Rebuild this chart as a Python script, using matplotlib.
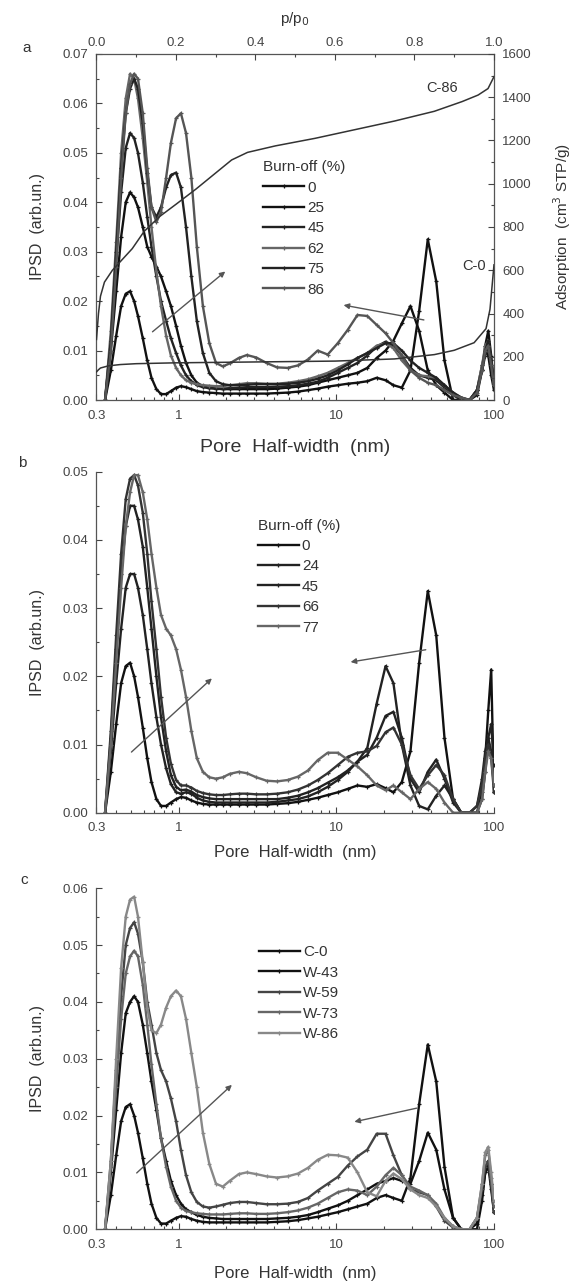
"""
Incremental pore size distributions of the activated carbons, three panels
"""

import matplotlib
matplotlib.use("Agg")
import matplotlib.pyplot as plt
from matplotlib.ticker import FixedLocator, MultipleLocator, FormatStrFormatter, NullFormatter

plt.rcParams["font.family"] = ["Liberation Sans", "DejaVu Sans"]
plt.rcParams["text.color"] = "#333333"
plt.rcParams["axes.labelcolor"] = "#333333"
plt.rcParams["xtick.color"] = "#444444"
plt.rcParams["ytick.color"] = "#444444"

# pore half-width grid (nm), shared by all IPSD curves
width_nm = [0.34, 0.37, 0.40, 0.43, 0.46, 0.49, 0.52, 0.55, 0.59, 0.63,
            0.67, 0.72, 0.77, 0.83, 0.89, 0.96, 1.03, 1.11, 1.2, 1.3,
            1.42, 1.56, 1.72, 1.9, 2.1, 2.4, 2.7, 3.1, 3.6, 4.2,
            4.9, 5.7, 6.6, 7.6, 8.8, 10.2, 11.8, 13.6, 15.7, 18,
            20.5, 23, 26, 29.5, 33.5, 38, 43, 48.5, 55, 62,
            70, 78, 84, 88, 92, 96, 100]

# ---- panel a: burn-off series
labels_a = ["0", "25", "45", "62", "75", "86"]
ipsd_a0 = [0.000, 0.006, 0.013, 0.019, 0.0215, 0.022, 0.020, 0.017, 0.0125, 0.008,
           0.0045, 0.0022, 0.0012, 0.0012, 0.0018, 0.0025, 0.0028, 0.0026, 0.0022, 0.0018,
           0.0016, 0.0015, 0.0014, 0.0013, 0.0013, 0.0013, 0.0013, 0.0013, 0.0013, 0.0014,
           0.0015, 0.0017, 0.002, 0.0023, 0.0027, 0.003, 0.0033, 0.0035, 0.0038, 0.0045,
           0.004, 0.003, 0.0025, 0.006, 0.018, 0.0325, 0.024, 0.008, 0.000, 0.000,
           0.000, 0.001, 0.006, 0.011, 0.014, 0.009, 0.003]
ipsd_a25 = [0.000, 0.010, 0.022, 0.033, 0.040, 0.042, 0.041, 0.039, 0.035, 0.031,
            0.029, 0.027, 0.025, 0.022, 0.019, 0.015, 0.011, 0.0075, 0.005, 0.0035,
            0.0028, 0.0025, 0.0023, 0.0022, 0.0022, 0.0022, 0.0022, 0.0022, 0.0022, 0.0023,
            0.0025, 0.0027, 0.003, 0.0035, 0.004, 0.0045, 0.005, 0.0055, 0.0065, 0.0085,
            0.010, 0.012, 0.0155, 0.019, 0.014, 0.006, 0.003, 0.0015, 0.000, 0.000,
            0.000, 0.002, 0.007, 0.010, 0.009, 0.005, 0.002]
ipsd_a45 = [0.000, 0.012, 0.028, 0.042, 0.051, 0.054, 0.053, 0.050, 0.044, 0.037,
            0.031, 0.025, 0.020, 0.016, 0.0125, 0.0095, 0.007, 0.005, 0.0038, 0.003,
            0.0026, 0.0024, 0.0023, 0.0023, 0.0024, 0.0025, 0.0026, 0.0026, 0.0026, 0.0027,
            0.0028, 0.003, 0.0033, 0.0037, 0.0045, 0.0055, 0.0065, 0.0075, 0.009, 0.0108,
            0.0118, 0.011, 0.009, 0.0065, 0.005, 0.0045, 0.004, 0.0025, 0.001, 0.000,
            0.000, 0.002, 0.006, 0.009, 0.011, 0.007, 0.003]
ipsd_a62 = [0.000, 0.014, 0.032, 0.050, 0.061, 0.066, 0.065, 0.061, 0.053, 0.044,
            0.035, 0.026, 0.019, 0.013, 0.009, 0.0065, 0.005, 0.004, 0.0035, 0.0032,
            0.003, 0.0029, 0.0028, 0.0028, 0.003, 0.0032, 0.0034, 0.0034, 0.0033, 0.0033,
            0.0035, 0.0038, 0.0042, 0.0048, 0.0055, 0.0065, 0.0075, 0.0085, 0.0095, 0.011,
            0.0115, 0.0105, 0.008, 0.006, 0.005, 0.0048, 0.0045, 0.003, 0.0015, 0.0005,
            0.000, 0.002, 0.007, 0.011, 0.012, 0.008, 0.003]
ipsd_a75 = [0.000, 0.012, 0.030, 0.047, 0.058, 0.063, 0.065, 0.063, 0.056, 0.046,
            0.039, 0.037, 0.039, 0.043, 0.0455, 0.046, 0.043, 0.035, 0.025, 0.016,
            0.0095, 0.0055, 0.0038, 0.0032, 0.003, 0.003, 0.0031, 0.0032, 0.0032, 0.0032,
            0.0033, 0.0035, 0.0038, 0.0043, 0.005, 0.006, 0.0072, 0.0085, 0.0095, 0.0105,
            0.0115, 0.0115, 0.010, 0.008, 0.0065, 0.0055, 0.0045, 0.003, 0.0015, 0.0005,
            0.000, 0.002, 0.006, 0.010, 0.012, 0.008, 0.004]
ipsd_a86 = [0.000, 0.010, 0.027, 0.045, 0.058, 0.064, 0.066, 0.065, 0.058, 0.047,
            0.039, 0.036, 0.038, 0.045, 0.052, 0.057, 0.058, 0.054, 0.045, 0.031,
            0.019, 0.0115, 0.0075, 0.0068, 0.0074, 0.0085, 0.0091, 0.0086, 0.0075, 0.0066,
            0.0065, 0.007, 0.0082, 0.0100, 0.0092, 0.0115, 0.0142, 0.0172, 0.0170, 0.0152,
            0.0135, 0.0115, 0.009, 0.006, 0.0045, 0.0035, 0.003, 0.002, 0.001, 0.0005,
            0.000, 0.0015, 0.006, 0.010, 0.011, 0.007, 0.003]
colors_a = ["#111111", "#111111", "#222222", "#666666", "#222222", "#555555"]

# nitrogen isotherms drawn against p/p0 (top) and adsorption (right)
p_c86 = [0.000, 0.005, 0.01, 0.02, 0.04, 0.06, 0.09, 0.12, 0.16, 0.20, 0.25, 0.30,
         0.34, 0.38, 0.45, 0.55, 0.65, 0.75, 0.85, 0.92, 0.96, 0.985, 1.0]
ads_c86 = [280, 400, 480, 545, 600, 640, 700, 780, 850, 905, 975, 1050,
           1110, 1145, 1175, 1210, 1250, 1290, 1335, 1380, 1410, 1440, 1495]
p_c0 = [0.0, 0.005, 0.01, 0.03, 0.06, 0.1, 0.2, 0.4, 0.6, 0.75, 0.85, 0.9,
        0.95, 0.98, 0.99, 1.0]
ads_c0 = [130, 140, 148, 158, 164, 168, 172, 176, 180, 190, 210, 230,
          265, 330, 420, 625]

# ---- panel b: burn-off series
labels_b = ["0", "24", "45", "66", "77"]
ipsd_b0 = [0.000, 0.006, 0.013, 0.019, 0.0215, 0.022, 0.020, 0.017, 0.0125, 0.008,
           0.0045, 0.002, 0.001, 0.001, 0.0015, 0.002, 0.0023, 0.0022, 0.0018, 0.0015,
           0.0013, 0.0012, 0.0012, 0.0012, 0.0012, 0.0012, 0.0012, 0.0012, 0.0012, 0.0013,
           0.0014, 0.0016, 0.0019, 0.0022, 0.0026, 0.003, 0.0035, 0.004, 0.0038, 0.0042,
           0.0036, 0.003, 0.0045, 0.009, 0.022, 0.0325, 0.026, 0.011, 0.002, 0.000,
           0.000, 0.000, 0.003, 0.008, 0.015, 0.021, 0.003]
ipsd_b24 = [0.000, 0.009, 0.019, 0.027, 0.033, 0.035, 0.035, 0.033, 0.029, 0.024,
            0.019, 0.014, 0.010, 0.0065, 0.0042, 0.003, 0.0028, 0.003, 0.0028, 0.0022,
            0.0018, 0.0016, 0.0015, 0.0015, 0.0015, 0.0015, 0.0015, 0.0015, 0.0015, 0.0016,
            0.0018, 0.002, 0.0024, 0.003, 0.0038, 0.0048, 0.006, 0.0075, 0.0095, 0.016,
            0.0215, 0.019, 0.010, 0.004, 0.001, 0.0005, 0.0025, 0.004, 0.002, 0.000,
            0.000, 0.000, 0.002, 0.006, 0.011, 0.013, 0.007]
ipsd_b45 = [0.000, 0.011, 0.024, 0.035, 0.042, 0.045, 0.045, 0.043, 0.039, 0.033,
            0.027, 0.020, 0.014, 0.009, 0.0055, 0.0038, 0.0033, 0.0034, 0.0031, 0.0026,
            0.0023, 0.0021, 0.002, 0.002, 0.002, 0.002, 0.002, 0.002, 0.002, 0.002,
            0.0022, 0.0025, 0.003, 0.0036, 0.0044, 0.0052, 0.0062, 0.0075, 0.0085, 0.0110,
            0.0142, 0.0148, 0.011, 0.005, 0.003, 0.006, 0.0078, 0.005, 0.0015, 0.000,
            0.000, 0.001, 0.005, 0.009, 0.011, 0.009, 0.004]
ipsd_b66 = [0.000, 0.012, 0.026, 0.038, 0.046, 0.049, 0.0495, 0.048, 0.044, 0.038,
            0.031, 0.024, 0.017, 0.011, 0.0072, 0.0048, 0.004, 0.004, 0.0037, 0.0032,
            0.0029, 0.0027, 0.0026, 0.0026, 0.0027, 0.0028, 0.0028, 0.0027, 0.0027, 0.0028,
            0.003, 0.0034, 0.004, 0.0048, 0.0058, 0.007, 0.0082, 0.0088, 0.0090, 0.0098,
            0.0118, 0.0125, 0.010, 0.0055, 0.0035, 0.0055, 0.007, 0.0055, 0.002, 0.000,
            0.000, 0.001, 0.004, 0.008, 0.010, 0.008, 0.003]
ipsd_b77 = [0.000, 0.010, 0.022, 0.033, 0.042, 0.047, 0.0495, 0.0495, 0.047, 0.043,
            0.038, 0.033, 0.029, 0.027, 0.026, 0.024, 0.021, 0.017, 0.012, 0.008,
            0.006, 0.0052, 0.005, 0.0052, 0.0057, 0.006, 0.0058, 0.0052, 0.0047, 0.0046,
            0.0048, 0.0053, 0.0062, 0.0077, 0.0088, 0.0088, 0.0078, 0.0068, 0.0055, 0.004,
            0.0033, 0.004, 0.003, 0.002, 0.0035, 0.0045, 0.0035, 0.0015, 0.000, 0.000,
            0.000, 0.000, 0.002, 0.006, 0.009, 0.008, 0.004]
colors_b = ["#111111", "#222222", "#222222", "#333333", "#666666"]

# ---- panel c: reference carbon and W series
labels_c = ["C-0", "W-43", "W-59", "W-73", "W-86"]
ipsd_c0 = [0.000, 0.006, 0.013, 0.019, 0.0215, 0.022, 0.020, 0.017, 0.0125, 0.008,
           0.0045, 0.002, 0.001, 0.001, 0.0015, 0.002, 0.0023, 0.0022, 0.0018, 0.0015,
           0.0013, 0.0012, 0.0012, 0.0012, 0.0012, 0.0012, 0.0012, 0.0012, 0.0012, 0.0013,
           0.0014, 0.0016, 0.0019, 0.0022, 0.0026, 0.003, 0.0035, 0.004, 0.0045, 0.0055,
           0.006, 0.0055, 0.005, 0.009, 0.022, 0.0325, 0.026, 0.011, 0.002, 0.000,
           0.000, 0.000, 0.005, 0.010, 0.012, 0.008, 0.003]
ipsd_w43 = [0.000, 0.010, 0.021, 0.031, 0.038, 0.040, 0.041, 0.040, 0.036, 0.031,
            0.026, 0.021, 0.016, 0.012, 0.0085, 0.006, 0.0045, 0.0035, 0.003, 0.0025,
            0.0022, 0.002, 0.0019, 0.0018, 0.0018, 0.0018, 0.0018, 0.0018, 0.0018, 0.0019,
            0.002, 0.0022, 0.0025, 0.003, 0.0036, 0.0042, 0.005, 0.006, 0.007, 0.008,
            0.0085, 0.009, 0.0085, 0.008, 0.012, 0.017, 0.014, 0.007, 0.002, 0.000,
            0.000, 0.001, 0.006, 0.010, 0.011, 0.007, 0.003]
ipsd_w59 = [0.000, 0.012, 0.028, 0.041, 0.050, 0.053, 0.054, 0.052, 0.047, 0.040,
            0.036, 0.031, 0.028, 0.026, 0.023, 0.019, 0.014, 0.0095, 0.0065, 0.0048,
            0.0040, 0.0038, 0.004, 0.0043, 0.0046, 0.0048, 0.0048, 0.0046, 0.0044, 0.0044,
            0.0045, 0.0048, 0.0055, 0.0068, 0.008, 0.0092, 0.0112, 0.0128, 0.0140, 0.0168,
            0.0168, 0.013, 0.0095, 0.007, 0.0065, 0.006, 0.004, 0.0015, 0.0003, 0.000,
            0.000, 0.002, 0.007, 0.011, 0.012, 0.008, 0.003]
ipsd_w73 = [0.000, 0.011, 0.025, 0.037, 0.045, 0.048, 0.049, 0.048, 0.043, 0.036,
            0.029, 0.022, 0.016, 0.011, 0.0075, 0.005, 0.0038, 0.0032, 0.003, 0.0028,
            0.0027, 0.0026, 0.0026, 0.0026, 0.0027, 0.0028, 0.0028, 0.0027, 0.0027, 0.0028,
            0.003, 0.0033, 0.0038, 0.0045, 0.0055, 0.0065, 0.007, 0.0068, 0.0060, 0.0075,
            0.0095, 0.0108, 0.0095, 0.0075, 0.0068, 0.006, 0.0045, 0.002, 0.0005, 0.000,
            0.000, 0.002, 0.008, 0.013, 0.014, 0.009, 0.004]
ipsd_w86 = [0.000, 0.012, 0.030, 0.046, 0.055, 0.058, 0.0585, 0.055, 0.047, 0.039,
            0.035, 0.0345, 0.036, 0.039, 0.041, 0.042, 0.041, 0.037, 0.031, 0.025,
            0.017, 0.0115, 0.008, 0.0075, 0.0085, 0.0097, 0.010, 0.0097, 0.0093, 0.0091,
            0.0093, 0.0098, 0.0108, 0.0122, 0.0131, 0.013, 0.0126, 0.010, 0.0065, 0.0058,
            0.0085, 0.0098, 0.0088, 0.007, 0.006, 0.0055, 0.004, 0.002, 0.0005, 0.000,
            0.000, 0.002, 0.008, 0.0135, 0.0145, 0.010, 0.005]
colors_c = ["#111111", "#111111", "#444444", "#666666", "#888888"]


def style_ipsd_axis(ax, ymax, label_size, xlabel_y):
    """
    Log pore-width axis with Origin-like inward ticks
    """
    ax.set_xscale("log")
    ax.set_xlim(0.3, 100)
    ax.set_ylim(0, ymax)
    ax.xaxis.set_major_locator(FixedLocator([0.3, 1, 10, 100]))
    ax.set_xticklabels(["0.3", "1", "10", "100"])
    ax.xaxis.set_minor_locator(FixedLocator(
        [0.4, 0.5, 0.6, 0.7, 0.8, 0.9] + [k for k in range(2, 10)] + [k * 10 for k in range(2, 10)]))
    ax.xaxis.set_minor_formatter(NullFormatter())
    ax.yaxis.set_major_locator(MultipleLocator(0.01))
    ax.yaxis.set_minor_locator(MultipleLocator(0.005))
    ax.yaxis.set_major_formatter(FormatStrFormatter("%.2f"))
    ax.tick_params(which="both", direction="in", labelsize=9.5, width=0.8)
    ax.tick_params(which="major", length=4)
    ax.tick_params(which="minor", length=2)
    ax.tick_params(axis="x", pad=7)
    ax.tick_params(axis="y", pad=6)
    for side in ("left", "bottom", "top", "right"):
        ax.spines[side].set_color("#555555")
        ax.spines[side].set_linewidth(0.9)
    ax.set_xlabel(r"Pore  Half-width  (nm)", fontsize=label_size)
    ax.xaxis.set_label_coords(0.5, xlabel_y)
    ax.set_ylabel(r"IPSD  (arb.un.)", fontsize=11.5)
    ax.yaxis.set_label_coords(-0.13, 0.5)


def plot_series(ax, series, labels, colors):
    handles = []
    for ys, lab, col in zip(series, labels, colors):
        line, = ax.plot(width_nm, ys, "-", color=col, lw=1.7, marker="+",
                        ms=3.5, mew=0.9, label=lab)
        handles.append(line)
    return handles


def add_arrow(ax, start, end):
    ax.annotate("", xy=end, xytext=start,
                arrowprops=dict(arrowstyle="-|>", color="#555555", lw=1.0,
                                mutation_scale=8, shrinkA=0, shrinkB=0))


fig = plt.figure(figsize=(5.73, 12.85), dpi=100)

# panel a
ax_a = fig.add_axes([0.1684, 0.6887, 0.6937, 0.2693])
plot_series(ax_a, [ipsd_a0, ipsd_a25, ipsd_a45, ipsd_a62, ipsd_a75, ipsd_a86],
            labels_a, colors_a)
style_ipsd_axis(ax_a, 0.07, 14, -0.114)
add_arrow(ax_a, (0.68, 0.0138), (1.97, 0.026))
add_arrow(ax_a, (35.9, 0.0162), (11.1, 0.0192))
ax_a.legend(title="Burn-off (%)", loc="upper left", bbox_to_anchor=(0.40, 0.715),
            frameon=False, fontsize=11, title_fontsize=11, handlelength=2.7,
            handletextpad=0.2, labelspacing=0.42, borderpad=0, alignment="left")

ax_iso = fig.add_axes([0.1684, 0.6887, 0.6937, 0.2693], frameon=False)
ax_iso.plot(p_c86, ads_c86, "-", color="#333333", lw=1.1)
ax_iso.plot(p_c0, ads_c0, "-", color="#333333", lw=1.1)
ax_iso.set_xlim(0, 1.0)
ax_iso.set_ylim(0, 1600)
ax_iso.xaxis.tick_top()
ax_iso.xaxis.set_label_position("top")
ax_iso.yaxis.tick_right()
ax_iso.yaxis.set_label_position("right")
ax_iso.xaxis.set_major_locator(MultipleLocator(0.2))
ax_iso.xaxis.set_minor_locator(MultipleLocator(0.1))
ax_iso.xaxis.set_major_formatter(FormatStrFormatter("%.1f"))
ax_iso.yaxis.set_major_locator(MultipleLocator(200))
ax_iso.yaxis.set_minor_locator(MultipleLocator(100))
ax_iso.tick_params(which="both", direction="in", labelsize=9.5, width=0.8)
ax_iso.tick_params(which="major", length=4)
ax_iso.tick_params(which="minor", length=2)
ax_iso.tick_params(axis="y", pad=6)
ax_iso.set_xlabel(r"p/p$_0$", fontsize=11, labelpad=10)
ax_iso.set_ylabel(r"Adsorption  (cm$^3$ STP/g)", fontsize=11)
ax_iso.yaxis.set_label_coords(1.145, 0.5)
ax_iso.text(0.83, 1443, "C-86", fontsize=10.5, ha="left", va="center")
ax_iso.text(0.92, 620, "C-0", fontsize=10.5, ha="left", va="center")

# panel b
ax_b = fig.add_axes([0.1684, 0.3675, 0.6937, 0.2654])
plot_series(ax_b, [ipsd_b0, ipsd_b24, ipsd_b45, ipsd_b66, ipsd_b77], labels_b, colors_b)
style_ipsd_axis(ax_b, 0.05, 12, -0.095)
ax_b.spines["top"].set_visible(False)
ax_b.spines["right"].set_visible(False)
ax_b.tick_params(which="both", top=False, right=False)
add_arrow(ax_b, (0.50, 0.0089), (1.62, 0.0197))
add_arrow(ax_b, (36.9, 0.0239), (12.3, 0.0221))
ax_b.legend(title="Burn-off (%)", loc="upper left", bbox_to_anchor=(0.386, 0.885),
            frameon=False, fontsize=11, title_fontsize=11, handlelength=2.7,
            handletextpad=0.2, labelspacing=0.42, borderpad=0, alignment="left")

# panel c
ax_c = fig.add_axes([0.1684, 0.0434, 0.6937, 0.2654])
plot_series(ax_c, [ipsd_c0, ipsd_w43, ipsd_w59, ipsd_w73, ipsd_w86], labels_c, colors_c)
style_ipsd_axis(ax_c, 0.06, 12, -0.108)
ax_c.spines["top"].set_visible(False)
ax_c.spines["right"].set_visible(False)
ax_c.tick_params(which="both", top=False, right=False)
add_arrow(ax_c, (0.54, 0.0099), (2.17, 0.0254))
add_arrow(ax_c, (32.3, 0.0213), (13.0, 0.0189))
ax_c.legend(loc="upper left", bbox_to_anchor=(0.389, 0.855),
            frameon=False, fontsize=11, handlelength=2.7,
            handletextpad=0.2, labelspacing=0.42, borderpad=0)

fig.text(27 / 573, 1 - 48 / 1285, "a", fontsize=11, ha="center", va="center")
fig.text(22 / 573, 1 - 463 / 1285, "b", fontsize=11, ha="center", va="center")
fig.text(24 / 573, 1 - 880 / 1285, "c", fontsize=11, ha="center", va="center")

fig.savefig("out.png", dpi=100)
